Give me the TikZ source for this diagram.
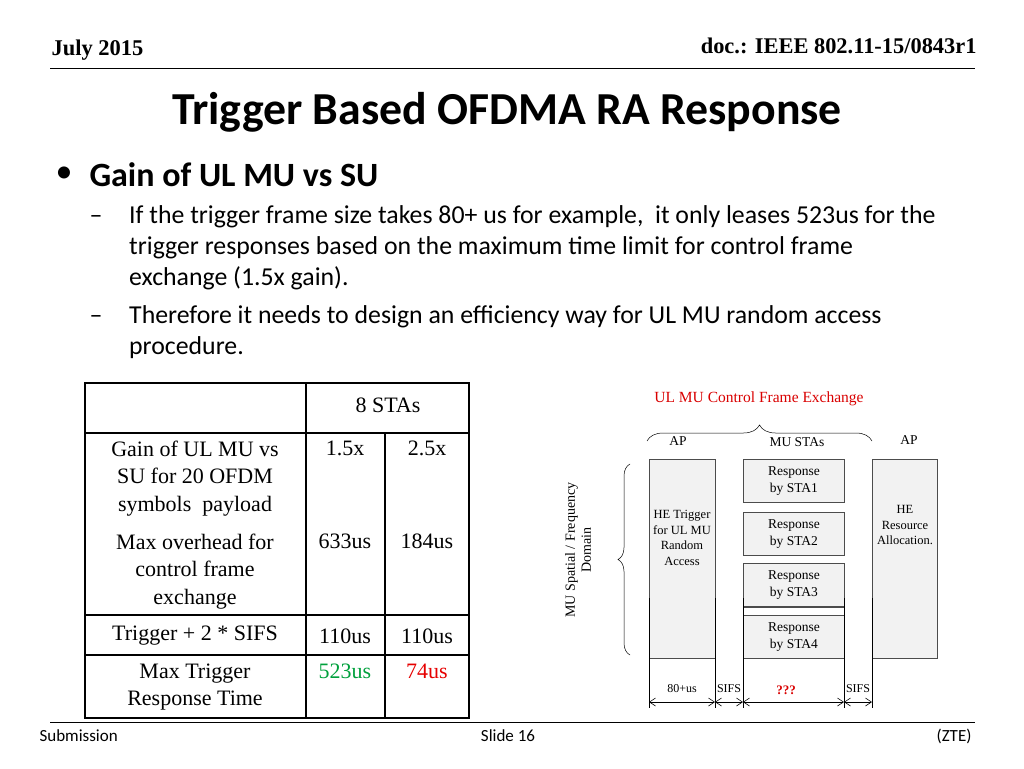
\documentclass[tikz,border=0pt]{standalone}
\usepackage{fontspec}
\setmainfont{Liberation Serif}
\newfontfamily\calfont{Carlito}
\usetikzlibrary{decorations.pathreplacing,arrows.meta}
\begin{document}
\begin{tikzpicture}[x=1pt,y=-1pt,
 box/.style={draw=black!70,fill=black!5,line width=0.8pt},
 tl/.style={font=\fontsize{22}{27.5}\selectfont,align=center},
 sm/.style={font=\fontsize{13.5}{15}\selectfont,align=center},
 dim/.style={{Straight Barb[length=6pt,width=8pt]}-{Straight Barb[length=6pt,width=8pt]},line width=0.6pt}]
\useasboundingbox (0,0) rectangle (1024,768);
% header/footer
\node[anchor=west,font=\bfseries\fontsize{22.5}{24}\selectfont] (date) at (48,50) {July 2015};
\node[anchor=east,font=\bfseries\fontsize{22.4}{24}\selectfont] (doc) at (980,46) {doc.: IEEE 802.11-15/0843r1};
\draw[line width=1pt] (50,68) -- (975,68);
\draw[line width=0.8pt] (50,722) -- (975,722);
\node[anchor=west,font=\calfont\fontsize{17}{18}\selectfont] (sub) at (36,736) {Submission};
\node[font=\calfont\fontsize{17}{18}\selectfont] (slide) at (508,736) {Slide 16};
\node[anchor=east,font=\calfont\fontsize{17}{18}\selectfont] (zte) at (975,736) {(ZTE)};
% title and bullets
\node[font=\calfont\bfseries\fontsize{45.8}{50}\selectfont] (title) at (507,112) {Trigger Based OFDMA RA Response};
\node[anchor=west,font=\calfont\fontsize{34}{36}\selectfont] (b1) at (52,175) {\textbullet};
\node[anchor=west,font=\calfont\bfseries\fontsize{34}{36}\selectfont] (b1t) at (86,175) {Gain of UL MU vs SU};
\node[anchor=west,font=\calfont\fontsize{25.8}{31}\selectfont] (d1) at (86,220) {\textendash};
\node[anchor=north west,font=\calfont\fontsize{25.8}{31}\selectfont,align=left,inner sep=0pt] (t1) at (129,205) {If the trigger frame size takes 80+ us for example,\ \ it only leases 523us for the\\trigger responses based on the maximum time limit for control frame\\exchange (1.5x gain).};
\node[anchor=west,font=\calfont\fontsize{25.8}{31}\selectfont] (d2) at (86,320) {\textendash};
\node[anchor=north west,font=\calfont\fontsize{25.8}{31}\selectfont,align=left,inner sep=0pt] (t2) at (129,305) {Therefore it needs to design an efficiency way for UL MU random access\\procedure.};
% table
\draw[line width=1.4pt] (85,383) rectangle (469,718);
\draw[line width=1.4pt] (306,383) -- (306,718);
\draw[line width=1.4pt] (85,433) -- (469,433);
\draw[line width=1.4pt] (385,433) -- (385,718);
\draw[line width=1.4pt] (85,615) -- (469,615) (85,655) -- (469,655);
\node[tl] (h) at (388,405) {8 STAs};
\node[tl,anchor=north] (r1) at (195,437) {Gain of UL MU vs\\SU for 20 OFDM\\symbols\ \ payload};
\node[tl,anchor=north] (r1a) at (345,437) {1.5x};
\node[tl,anchor=north] (r1b) at (427,437) {2.5x};
\node[tl,anchor=north] (r2) at (195,530) {Max overhead for\\control frame\\exchange};
\node[tl,anchor=north] (r2a) at (345,530) {633us};
\node[tl,anchor=north] (r2b) at (427,530) {184us};
\node[tl] (r3) at (195,636) {Trigger + 2 * SIFS};
\node[tl] (r3a) at (345,636) {110us};
\node[tl] (r3b) at (427,636) {110us};
\node[tl,anchor=north] (r4) at (195,660) {Max Trigger\\Response Time};
\node[tl,anchor=north,text={rgb,255:red,0;green,160;blue,60}] (r4a) at (345,660) {523us};
\node[tl,anchor=north,text={rgb,255:red,230;green,0;blue,0}] (r4b) at (427,660) {74us};
% diagram
\node[sm,text=red!85!black,font=\fontsize{15.5}{17}\selectfont] (ex) at (759,399) {UL MU Control Frame Exchange};
\draw[decorate,decoration={brace,amplitude=16pt,aspect=0.5},line width=0.5pt] (647,441) -- (872,441);
\node[sm] (ap1) at (678,441) {AP};
\node[sm] (mu) at (797,442) {MU STAs};
\node[sm] (ap2) at (909,440) {AP};
\node[box,minimum width=66pt,minimum height=199pt,anchor=north west,inner sep=0] (trig) at (649,459) {};
\node[sm,font=\fontsize{12.5}{15.5}\selectfont] (trigt) at (682,538) {HE Trigger\\for UL MU\\Random\\Access};
\node[box,minimum width=65pt,minimum height=199pt,anchor=north west,inner sep=0] (res) at (872,459) {};
\node[sm,font=\fontsize{12.5}{15.5}\selectfont] (rest) at (905,525) {HE\\Resource\\Allocation.};
\foreach \n/\y in {1/459,2/512,3/563,4/615}{
 \node[box,minimum width=101pt,minimum height=43pt,anchor=north west,inner sep=0,font=\fontsize{13.5}{17}\selectfont,align=center] (s\n) at (743,\y) {Response\\by STA\n};}
\draw[black!70,line width=0.6pt] (743,607) rectangle (844,615);
\draw[decorate,decoration={brace,amplitude=12pt,mirror},line width=0.5pt] (630,464) -- (630,655);
\node[sm,rotate=90,font=\fontsize{14}{16}\selectfont] (dom) at (578,550) {MU Spatial / Frequency\\Domain};
\foreach \x/\nm in {649/va,715/vb,743/vc,844/vd,872/ve}{\coordinate (\nm t) at (\x,598); \coordinate (\nm b) at (\x,708); \draw[line width=0.8pt] (\nm t) -- (\nm b);}
\coordinate (a1) at (649,702); \coordinate (a2) at (715,702); \coordinate (a3) at (743,702); \coordinate (a4) at (844,702); \coordinate (a5) at (872,702);
\draw[dim] (a1) -- (a2); \draw[dim] (a2) -- (a3); \draw[dim] (a3) -- (a4); \draw[dim] (a4) -- (a5);
\node[sm,font=\fontsize{12}{13}\selectfont] (l1) at (682,689) {80+us};
\node[sm,font=\fontsize{12}{13}\selectfont,inner sep=0pt] (l2) at (729,689) {SIFS};
\node[sm,font=\bfseries\fontsize{13}{14}\selectfont,text=red!85!black] (l3) at (786,690) {???};
\node[sm,font=\fontsize{12}{13}\selectfont,inner sep=0pt] (l4) at (858,689) {SIFS};
\end{tikzpicture}
\end{document}
